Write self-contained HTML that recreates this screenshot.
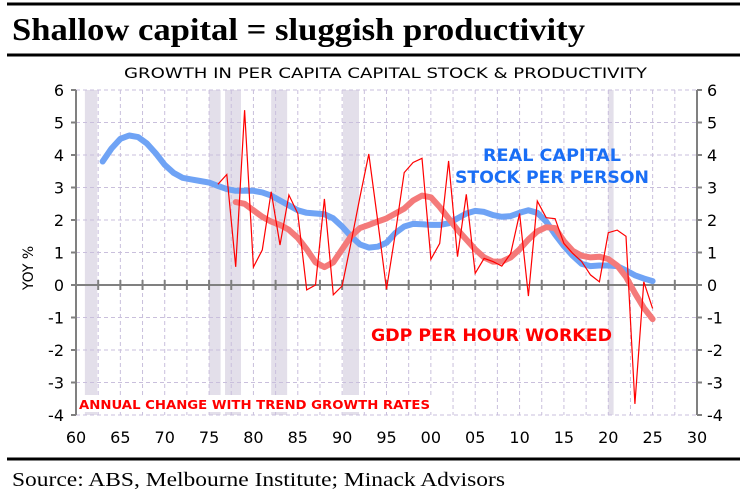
<!DOCTYPE html>
<html><head><meta charset="utf-8"><style>
html,body{margin:0;padding:0;background:#fff;}
body{width:747px;height:497px;overflow:hidden;position:relative;}
svg{position:absolute;left:0;top:0;}
</style></head><body>
<svg id="chart" width="747" height="497">
<line x1="7" y1="4" x2="740" y2="4" stroke="#000" stroke-width="3"/>
<text x="12" y="40" textLength="573" lengthAdjust="spacingAndGlyphs" font-family="Liberation Serif, serif" font-weight="bold" font-size="32" fill="#000">Shallow capital = sluggish productivity</text>
<line x1="7" y1="55" x2="740" y2="55" stroke="#000" stroke-width="3"/>
<text x="124" y="78" textLength="523" lengthAdjust="spacingAndGlyphs" font-family="DejaVu Sans, sans-serif" font-size="14" fill="#000">GROWTH IN PER CAPITA CAPITAL STOCK &amp; PRODUCTIVITY</text>
<line x1="7" y1="459" x2="740" y2="459" stroke="#000" stroke-width="3"/>
<text x="12" y="486" textLength="493" lengthAdjust="spacingAndGlyphs" font-family="Liberation Serif, serif" font-size="20" fill="#000">Source: ABS, Melbourne Institute; Minack Advisors</text>
<text transform="translate(33,268) rotate(-90)" text-anchor="middle" font-family="DejaVu Sans, sans-serif" font-size="14" fill="#000">YOY %</text>
<g id="plot"></g>
</svg>
<script>
const recessions = [[1961,1962.4],[1975,1976.3],[1976.8,1978.6],[1982,1983.8],[1990.1,1991.9],[2020,2020.6]];
const annualYears = [1976,1977,1978,1979,1980,1981,1982,1983,1984,1985,1986,1987,1988,1989,1990,1991,1992,1993,1994,1995,1996,1997,1998,1999,2000,2001,2002,2003,2004,2005,2006,2007,2008,2009,2010,2011,2012,2013,2014,2015,2016,2017,2018,2019,2020,2021,2022,2023,2024,2025];
const annualValues = [3.1,3.4,0.56,5.38,0.55,1.08,2.87,1.23,2.77,2.2,-0.15,0,2.65,-0.3,-0.03,1.3,2.7,4.03,2.0,-0.13,1.6,3.46,3.77,3.9,0.79,1.28,3.82,0.87,2.79,0.36,0.82,0.72,0.58,0.97,2.2,-0.34,2.58,2.07,2.04,1.28,0.97,0.72,0.31,0.1,1.61,1.69,1.5,-3.66,0.1,-0.72];
const capitalYears = [1963,1964,1965,1966,1967,1968,1969,1970,1971,1972,1973,1974,1975,1976,1977,1978,1979,1980,1981,1982,1983,1984,1985,1986,1987,1988,1989,1990,1991,1992,1993,1994,1995,1996,1997,1998,1999,2000,2001,2002,2003,2004,2005,2006,2007,2008,2009,2010,2011,2012,2013,2014,2015,2016,2017,2018,2019,2020,2021,2022,2023,2024,2025];
const capitalValues = [3.8,4.2,4.5,4.6,4.55,4.35,4.05,3.7,3.45,3.3,3.25,3.2,3.15,3.05,2.95,2.9,2.9,2.9,2.85,2.75,2.6,2.45,2.3,2.22,2.2,2.18,2.05,1.8,1.5,1.25,1.15,1.18,1.3,1.6,1.8,1.88,1.87,1.85,1.85,1.9,2.05,2.2,2.28,2.25,2.15,2.1,2.12,2.22,2.3,2.22,1.95,1.55,1.2,0.9,0.65,0.58,0.6,0.6,0.58,0.45,0.3,0.2,0.12];
const trendYears = [1978,1979,1980,1981,1982,1983,1984,1985,1986,1987,1988,1989,1990,1991,1992,1993,1994,1995,1996,1997,1998,1999,2000,2001,2002,2003,2004,2005,2006,2007,2008,2009,2010,2011,2012,2013,2014,2015,2016,2017,2018,2019,2020,2021,2022,2023,2024,2025];
const trendValues = [2.55,2.5,2.3,2.1,1.95,1.85,1.7,1.45,1.1,0.7,0.55,0.7,1.1,1.5,1.75,1.85,1.95,2.05,2.2,2.35,2.6,2.75,2.7,2.4,2.05,1.7,1.4,1.1,0.85,0.72,0.72,0.85,1.1,1.4,1.65,1.78,1.75,1.35,1.05,0.9,0.85,0.87,0.8,0.6,0.25,-0.25,-0.7,-1.05];
const yTicks = [6,5,4,3,2,1,0,-1,-2,-3,-4];
const xTickYears = [1960,1965,1970,1975,1980,1985,1990,1995,2000,2005,2010,2015,2020,2025,2030];
const xTickLabels = ["60","65","70","75","80","85","90","95","00","05","10","15","20","25","30"];

const L=76,R=697,T=90,B=415;
const x = yr => L + (yr-1960)/70*(R-L);
const y = v => T + (6-v)/10*(B-T);
const NS='http://www.w3.org/2000/svg';
const g=document.getElementById('plot');
const FONT='DejaVu Sans, Liberation Sans, sans-serif';
function mk(tag,attrs){const e=document.createElementNS(NS,tag);for(const k in attrs)e.setAttribute(k,attrs[k]);g.appendChild(e);return e;}

recessions.forEach(r=>{
  const e=mk('rect',{x:x(r[0]),y:T,width:x(r[1])-x(r[0]),height:B-T,fill:'#e3dfea'});
  
  
});
for(let yr=1962.5;yr<2030;yr+=2.5){
  const e=mk('line',{x1:x(yr),y1:T,x2:x(yr),y2:B,stroke:'#c9bfdc','stroke-width':1,'stroke-dasharray':'4,3'});
  
  
}
yTicks.forEach(v=>{
  if(v!==0&&v!==-4){
    const e=mk('line',{x1:L,y1:y(v),x2:R,y2:y(v),stroke:'#c9bfdc','stroke-width':1,'stroke-dasharray':'4,3'});
    
    
  }
  const t1=mk('text',{x:L-12,y:y(v)+6,'text-anchor':'end','font-family':FONT,'font-size':16,fill:'#000'});
  t1.textContent=v;
  
  
  const t2=mk('text',{x:R+10,y:y(v)+6,'font-family':FONT,'font-size':16,fill:'#000'});
  t2.textContent=v;
  
  
  const k1=mk('line',{x1:L-5,y1:y(v),x2:L,y2:y(v),stroke:'#808080','stroke-width':2});
  
  
  const k2=mk('line',{x1:R,y1:y(v),x2:R+5,y2:y(v),stroke:'#808080','stroke-width':2});
  
  
});
const bl=mk('line',{x1:L,y1:B,x2:R,y2:B,stroke:'#c9bfdc','stroke-width':1,'stroke-dasharray':'4,3'});


const ya=mk('line',{x1:L,y1:T,x2:L,y2:B,stroke:'#808080','stroke-width':2});


const yb=mk('line',{x1:R,y1:T,x2:R,y2:B,stroke:'#808080','stroke-width':2});


const za=mk('line',{x1:L-5,y1:y(0),x2:R+5,y2:y(0),stroke:'#808080','stroke-width':2});


for(let yr=1962.5;yr<2030;yr+=2.5){
  const k=mk('line',{x1:x(yr),y1:y(0)-5,x2:x(yr),y2:y(0)+5,stroke:'#808080','stroke-width':2});
  
  
}
xTickYears.forEach((yr,i)=>{
  const t=mk('text',{x:x(yr),y:443,'text-anchor':'middle','font-family':FONT,'font-size':16,fill:'#000'});
  t.textContent=xTickLabels[i];
  
  
});
function pts(xs,vs){return xs.map((yr,i)=>x(yr).toFixed(1)+','+y(vs[i]).toFixed(1)).join(' ');}
const cap=mk('polyline',{points:pts(capitalYears,capitalValues),fill:'none',stroke:'#6fa3f5','stroke-width':6,'stroke-linejoin':'round','stroke-linecap':'round'});


const tr=mk('polyline',{points:pts(trendYears,trendValues),fill:'none',stroke:'#f47a7a','stroke-width':6,'stroke-linejoin':'round','stroke-linecap':'round'});


const an=mk('polyline',{points:pts(annualYears,annualValues),fill:'none',stroke:'#ff0000','stroke-width':1.2});


function lbl(txt,x0,x1,yy,size,col,name){
  const t=mk('text',{x:x0,y:yy,textLength:x1-x0,lengthAdjust:'spacingAndGlyphs','font-family':FONT,'font-weight':'bold','font-size':size,fill:col});
  t.textContent=txt;
  
  
}
const bg=mk('rect',{x:78,y:395,width:356,height:17,fill:'#fff'});


lbl('REAL CAPITAL',483,621,161,17,'#1a6ef5','capital-label-line1');
lbl('STOCK PER PERSON',455,649,183,17,'#1a6ef5','capital-label-line2');
lbl('GDP PER HOUR WORKED',371,612,341,17,'#ff0000','productivity-label');
lbl('ANNUAL CHANGE WITH TREND GROWTH RATES',79,430,409,12,'#ff0000','annotation-label');
</script>
</body></html>
